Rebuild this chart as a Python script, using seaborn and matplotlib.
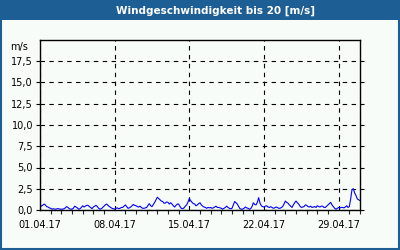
import numpy as np
import pandas as pd
import matplotlib
matplotlib.use("Agg")
import matplotlib.pyplot as plt
import matplotlib.dates as mdates
from matplotlib.patches import Rectangle
from matplotlib.ticker import FuncFormatter
import seaborn as sns

title = "Windgeschwindigkeit bis 20 [m/s]"
unit_label = "m/s"
start_date = "2017-04-01"
end_date = "2017-05-01"
y_ticks = [0, 2.5, 5, 7.5, 10, 12.5, 15, 17.5]
x_tick_labels = ["01.04.17", "08.04.17", "15.04.17", "22.04.17", "29.04.17"]

# 3-hourly wind speed values (m/s) (one row per day)
wind = [
    0.7, 0.45, 0.55, 0.7, 0.6, 0.4, 0.35, 0.25,
    0.2, 0.1, 0.15, 0.1, 0.1, 0.15, 0.15, 0.1,
    0.1, 0.1, 0.15, 0.25, 0.4, 0.3, 0.15, 0.1,
    0.1, 0.2, 0.45, 0.35, 0.25, 0.1, 0.15, 0.3,
    0.5, 0.35, 0.45, 0.55, 0.55, 0.4, 0.3, 0.15,
    0.35, 0.45, 0.55, 0.4, 0.2, 0.1, 0.15, 0.3,
    0.45, 0.6, 0.7, 0.55, 0.4, 0.3, 0.2, 0.15,
    0.1, 0.2, 0.25, 0.15, 0.2, 0.3, 0.3, 0.45,
    0.6, 0.4, 0.2, 0.25, 0.35, 0.5, 0.65, 0.55,
    0.5, 0.4, 0.35, 0.45, 0.3, 0.2, 0.2, 0.25,
    0.3, 0.55, 0.75, 0.5, 0.4, 0.65, 0.9, 1.2,
    1.5, 1.35, 1.2, 1.05, 1.0, 0.8, 0.8, 0.95,
    0.9, 0.7, 0.85, 0.7, 0.5, 0.35, 0.55, 0.7,
    0.7, 0.4, 0.2, 0.15, 0.25, 0.45, 0.6, 0.95,
    1.35, 1.1, 0.9, 0.75, 0.7, 0.5, 0.6, 0.75,
    0.85, 0.6, 0.45, 0.35, 0.3, 0.2, 0.3, 0.25,
    0.3, 0.2, 0.25, 0.35, 0.45, 0.3, 0.3, 0.25,
    0.2, 0.1, 0.2, 0.3, 0.45, 0.3, 0.2, 0.15,
    0.2, 0.6, 1.0, 0.85, 0.7, 0.4, 0.15, 0.1,
    0.1, 0.2, 0.35, 0.25, 0.2, 0.1, 0.15, 0.4,
    0.85, 0.65, 0.6, 0.9, 1.45, 0.8, 0.5, 0.4,
    0.35, 0.45, 0.5, 0.35, 0.3, 0.4, 0.3, 0.2,
    0.25, 0.35, 0.3, 0.2, 0.2, 0.3, 0.4, 0.7,
    1.05, 0.9, 0.8, 0.6, 0.45, 0.3, 0.6, 0.85,
    1.05, 0.85, 0.7, 0.45, 0.3, 0.35, 0.4, 0.6,
    0.55, 0.4, 0.35, 0.45, 0.3, 0.35, 0.4, 0.3,
    0.5, 0.4, 0.35, 0.45, 0.45, 0.3, 0.3, 0.45,
    0.6, 0.75, 0.9, 0.6, 0.4, 0.2, 0.1, 0.2,
    0.3, 0.25, 0.3, 0.3, 0.25, 0.35, 0.5, 0.3,
    0.4, 1.3, 2.4, 2.5, 2.0, 1.7, 1.3, 1.2,
    1.1,
]

times = pd.date_range(start_date, periods=len(wind), freq="3h")
df = pd.DataFrame({"time": times, "wind": wind})

sns.set_style("white")
plt.rcParams["font.family"] = ["DejaVu Sans"]

bg = "#f8fcf8"
frame = "#1d5f94"

fig = plt.figure(figsize=(4, 2.5), dpi=100, facecolor=bg)
ax = fig.add_axes([0.1, 0.16, 0.8, 0.68])
ax.set_facecolor(bg)

sns.lineplot(data=df, x="time", y="wind", ax=ax, color="#0000ff", linewidth=0.8)

ax.set_xlim(pd.Timestamp(start_date), pd.Timestamp(end_date))
ax.set_ylim(0, 20)
ax.set_yticks(y_ticks)
ax.yaxis.set_major_formatter(FuncFormatter(lambda v, p: f"{v:.1f}".replace(".", ",")))

major_dates = pd.date_range(start_date, periods=len(x_tick_labels), freq="7D")
ax.set_xticks(major_dates)
ax.set_xticklabels(x_tick_labels)
ax.xaxis.set_minor_locator(mdates.DayLocator())

ax.grid(True, which="major", color="black", linestyle=(0, (4, 4)), linewidth=0.8)
ax.set_xlabel("")
ax.set_ylabel("")

for s in ax.spines.values():
    s.set_visible(True)
    s.set_color("black")
    s.set_linewidth(1.0)

ax.tick_params(axis="both", which="major", labelsize=7, colors="black",
               direction="out", length=3, width=0.8, pad=2)
ax.tick_params(axis="x", which="major", pad=4)
ax.tick_params(axis="x", which="minor", direction="out", length=3, width=0.8,
               bottom=True)
ax.tick_params(axis="y", right=True, left=True)

fig.text(0.07, 0.812, unit_label, ha="right", va="center", fontsize=7, color="black")

fig.patches.append(Rectangle((0, 0.92), 1, 0.08, transform=fig.transFigure,
                             facecolor=frame, edgecolor="none", zorder=0))
fig.patches.append(Rectangle((0.0025, 0.004), 0.995, 0.992, transform=fig.transFigure,
                             facecolor="none", edgecolor=frame, linewidth=1.5, zorder=5))
fig.text(0.54, 0.958, title, ha="center", va="center", fontsize=7.5,
         color="white", fontweight="bold")

fig.savefig("out.png", dpi=100, facecolor=bg)
